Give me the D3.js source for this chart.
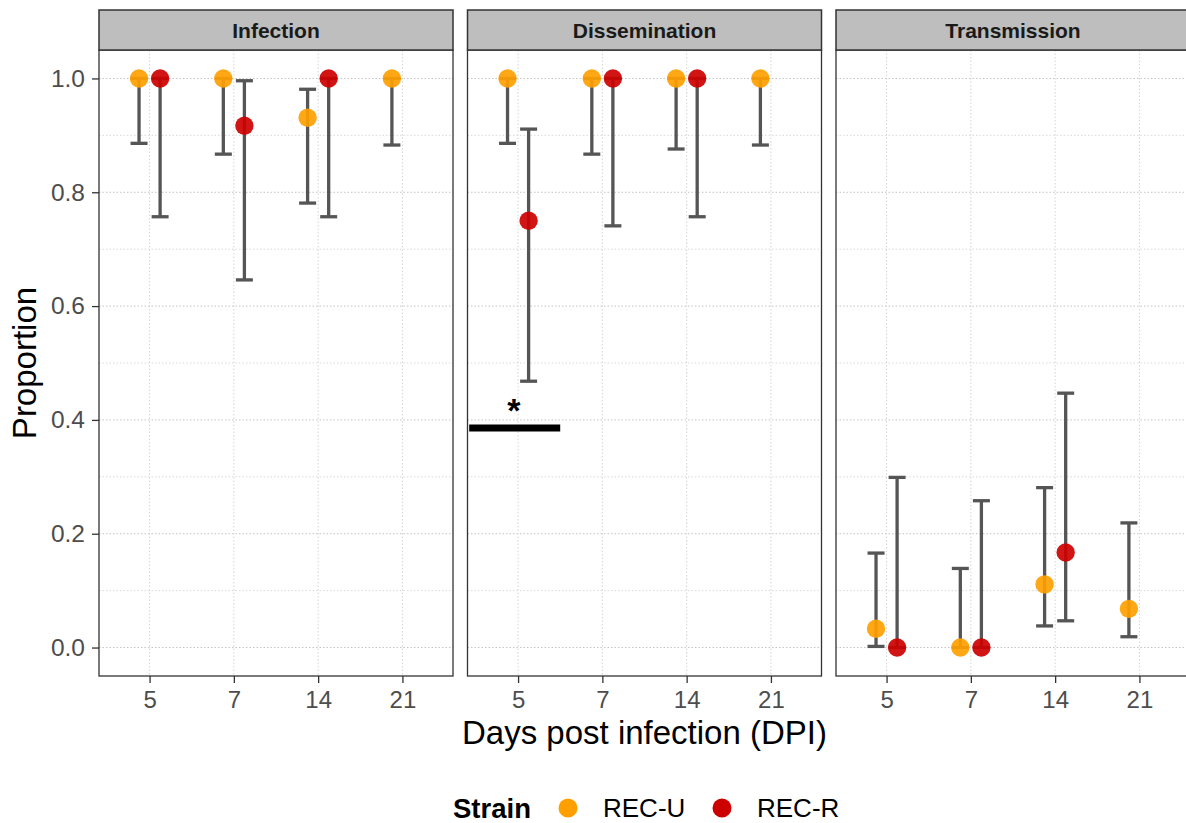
<!DOCTYPE html>
<html>
<head>
<meta charset="utf-8">
<script src="https://cdn.jsdelivr.net/npm/d3@7"></script>
<style>
  body { margin: 0; background: #fff; }
  svg text { font-family: "Liberation Sans", Arial, sans-serif; }
</style>
</head>
<body>
<div id="chart"></div>
<script>
// Facets, categories and groups
var panels  = ["Infection", "Dissemination", "Transmission"];
var days    = ["5", "7", "14", "21"];
var strains = ["REC-U", "REC-R"];
var strainColors = ["#FFA000", "#CD0000"];
var yTicks  = [0, 0.2, 0.4, 0.6, 0.8, 1.0];
var yMinor  = [0.1, 0.3, 0.5, 0.7, 0.9];

// Proportion estimates and 95% CI, one value per day (null = not sampled)
var infU_est = [1.000, 1.000, 0.931, 1.000];
var infU_lo  = [0.886, 0.867, 0.781, 0.883];
var infU_hi  = [1.000, 1.000, 0.981, 1.000];
var infR_est = [1.000, 0.917, 1.000, null];
var infR_lo  = [0.757, 0.646, 0.757, null];
var infR_hi  = [1.000, 0.996, 1.000, null];

var disU_est = [1.000, 1.000, 1.000, 1.000];
var disU_lo  = [0.886, 0.867, 0.876, 0.883];
var disU_hi  = [1.000, 1.000, 1.000, 1.000];
var disR_est = [0.750, 1.000, 1.000, null];
var disR_lo  = [0.468, 0.741, 0.757, null];
var disR_hi  = [0.911, 1.000, 1.000, null];

var traU_est = [0.033, 0.000, 0.111, 0.068];
var traU_lo  = [0.002, 0.000, 0.038, 0.019];
var traU_hi  = [0.166, 0.139, 0.281, 0.219];
var traR_est = [0.000, 0.000, 0.167, null];
var traR_lo  = [0.000, 0.000, 0.047, null];
var traR_hi  = [0.299, 0.258, 0.447, null];

// Significance mark in the Dissemination panel (x in category units, 1 = first day)
var sigPanel = "Dissemination";
var sigX0 = 0.42, sigX1 = 1.5, sigY = 0.386;
var starX = 0.95, starY = 0.418;

// Build long table for drawing
var series = {
  "Infection":     [[infU_est, infU_lo, infU_hi], [infR_est, infR_lo, infR_hi]],
  "Dissemination": [[disU_est, disU_lo, disU_hi], [disR_est, disR_lo, disR_hi]],
  "Transmission":  [[traU_est, traU_lo, traU_hi], [traR_est, traR_lo, traR_hi]]
};
var rows = [];
panels.forEach(function(p) {
  strains.forEach(function(s, si) {
    var d = series[p][si];
    days.forEach(function(day, di) {
      if (d[0][di] === null) return;
      rows.push({panel: p, strain: s, day: day, est: d[0][di], lo: d[1][di], hi: d[2][di]});
    });
  });
});

// Layout
var W = 1186, H = 823;
var left = 99, panelW = 354, gap = 14.5;
var stripTop = 10, panelTop = 50, panelBot = 676;
var panelH = panelBot - panelTop;

var svg = d3.select("#chart").append("svg")
    .attr("width", W).attr("height", H);

var x = d3.scalePoint().domain(days).range([0, panelW]).padding(0.6);
var dodge = d3.scalePoint().domain(strains).range([-0.125 * x.step(), 0.125 * x.step()]);
var y = d3.scaleLinear().domain([-0.05, 1.05]).range([panelH, 0]);
var color = d3.scaleOrdinal().domain(strains).range(strainColors);

function catX(v) { return x(days[0]) + (v - 1) * x.step(); }

panels.forEach(function(p, pi) {
  var g = svg.append("g")
      .attr("transform", "translate(" + (left + pi * (panelW + gap)) + "," + panelTop + ")");

  // grid
  g.selectAll(".gminor").data(yMinor).enter().append("line")
      .attr("x1", 0).attr("x2", panelW)
      .attr("y1", function(d) { return y(d); }).attr("y2", function(d) { return y(d); })
      .attr("stroke", "#d9d9d9").attr("stroke-width", 1).attr("stroke-dasharray", "1.5,2");
  g.selectAll(".gmajor").data(yTicks).enter().append("line")
      .attr("x1", 0).attr("x2", panelW)
      .attr("y1", function(d) { return y(d); }).attr("y2", function(d) { return y(d); })
      .attr("stroke", "#c4c4c4").attr("stroke-width", 1).attr("stroke-dasharray", "1.5,2");
  g.selectAll(".gx").data(days).enter().append("line")
      .attr("x1", function(d) { return x(d); }).attr("x2", function(d) { return x(d); })
      .attr("y1", 0).attr("y2", panelH)
      .attr("stroke", "#d4d4d4").attr("stroke-width", 1).attr("stroke-dasharray", "1.5,2");

  var pr = rows.filter(function(r) { return r.panel === p; });
  var cx = function(r) { return x(r.day) + dodge(r.strain); };

  // error bars
  var eb = g.selectAll(".eb").data(pr).enter().append("g")
      .attr("stroke", "#555").attr("stroke-width", 3.3);
  eb.append("line")
      .attr("x1", cx).attr("x2", cx)
      .attr("y1", function(r) { return y(r.lo); }).attr("y2", function(r) { return y(r.hi); });
  eb.append("line")
      .attr("x1", function(r) { return cx(r) - 8.5; }).attr("x2", function(r) { return cx(r) + 8.5; })
      .attr("y1", function(r) { return y(r.lo); }).attr("y2", function(r) { return y(r.lo); });
  eb.append("line")
      .attr("x1", function(r) { return cx(r) - 8.5; }).attr("x2", function(r) { return cx(r) + 8.5; })
      .attr("y1", function(r) { return y(r.hi); }).attr("y2", function(r) { return y(r.hi); });

  // points
  g.selectAll(".pt").data(pr).enter().append("circle")
      .attr("cx", cx).attr("cy", function(r) { return y(r.est); })
      .attr("r", 9.2)
      .attr("fill", function(r) { return color(r.strain); })
      .attr("fill-opacity", 0.92);

  // significance bar + star
  if (p === sigPanel) {
    g.append("line")
        .attr("x1", catX(sigX0)).attr("x2", catX(sigX1))
        .attr("y1", y(sigY)).attr("y2", y(sigY))
        .attr("stroke", "#000").attr("stroke-width", 7);
    g.append("text")
        .attr("x", catX(starX)).attr("y", y(starY)).attr("dy", "0.35em")
        .attr("text-anchor", "middle")
        .style("font-size", "34px").style("font-weight", "bold")
        .text("*");
  }

  // panel border
  g.append("rect")
      .attr("x", 0).attr("y", 0).attr("width", panelW).attr("height", panelH)
      .attr("fill", "none").attr("stroke", "#333").attr("stroke-width", 1.3);

  // strip
  g.append("rect")
      .attr("x", 0).attr("y", stripTop - panelTop).attr("width", panelW).attr("height", panelTop - stripTop)
      .attr("fill", "#bebebe").attr("stroke", "#333").attr("stroke-width", 1.5);
  g.append("text")
      .attr("x", panelW / 2).attr("y", (stripTop - panelTop) / 2 + 7.5)
      .attr("text-anchor", "middle")
      .style("font-size", "21px").style("font-weight", "bold").style("fill", "#1a1a1a")
      .text(p);

  // x axis
  var xa = g.append("g")
      .attr("transform", "translate(0," + panelH + ")")
      .call(d3.axisBottom(x).tickSize(7).tickPadding(8));
  xa.select(".domain").remove();
  xa.selectAll("line").attr("stroke", "#333").attr("stroke-width", 1.3);
  xa.selectAll("text").style("font-size", "24px").style("fill", "#4d4d4d")
      .style("font-family", "Liberation Sans, Arial, sans-serif");

  // y axis only on first panel
  if (pi === 0) {
    var ya = g.append("g")
        .call(d3.axisLeft(y).tickValues(yTicks).tickFormat(d3.format(".1f")).tickSize(7).tickPadding(7));
    ya.select(".domain").remove();
    ya.selectAll("line").attr("stroke", "#333").attr("stroke-width", 1.3);
    ya.selectAll("text").style("font-size", "24.5px").style("fill", "#4d4d4d")
        .style("font-family", "Liberation Sans, Arial, sans-serif");
  }
});

// axis titles
svg.append("text")
    .attr("transform", "translate(36," + (panelTop + panelH / 2) + ") rotate(-90)")
    .attr("text-anchor", "middle")
    .style("font-size", "33px")
    .text("Proportion");
svg.append("text")
    .attr("x", left + (3 * panelW + 2 * gap) / 2).attr("y", 744)
    .attr("text-anchor", "middle")
    .style("font-size", "33px")
    .text("Days post infection (DPI)");

// legend
var leg = svg.append("g").attr("transform", "translate(453,808)");
leg.append("text")
    .attr("x", 0).attr("y", 9.7)
    .style("font-size", "27.5px").style("font-weight", "bold")
    .text("Strain");
var legItems = leg.selectAll(".li").data(strains).enter().append("g")
    .attr("transform", function(d, i) { return "translate(" + (115 + i * 154) + ",0)"; });
legItems.append("circle")
    .attr("r", 9.5)
    .attr("fill", function(d) { return color(d); });
legItems.append("text")
    .attr("x", 35).attr("y", 9.3)
    .style("font-size", "26px")
    .text(function(d) { return d; });
</script>
</body>
</html>
